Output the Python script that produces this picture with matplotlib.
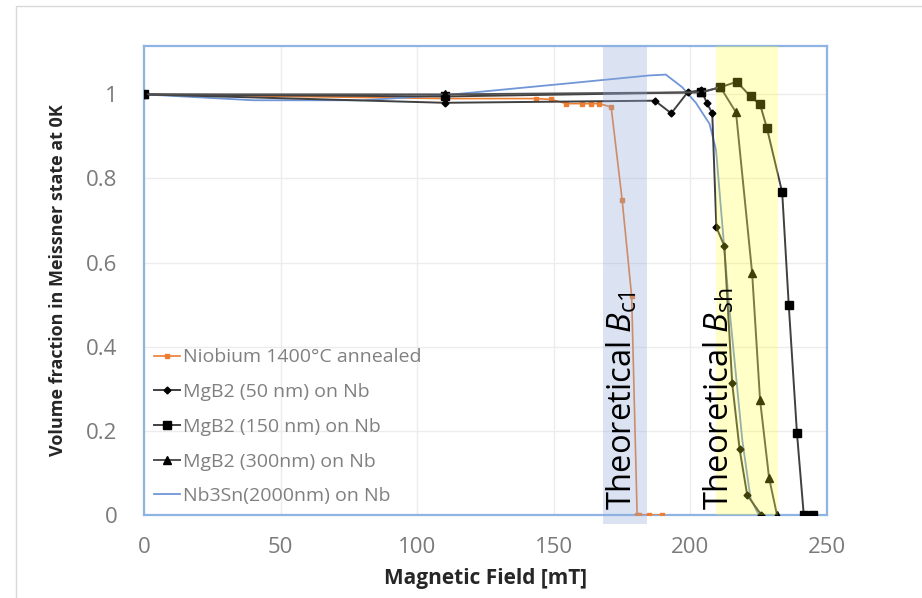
import matplotlib
matplotlib.use('Agg')
import matplotlib.pyplot as plt
from matplotlib.patches import Rectangle

plt.rcParams['font.family'] = 'Open Sans'
plt.rcParams['mathtext.fontset'] = 'custom'
plt.rcParams['mathtext.rm'] = 'Open Sans'
plt.rcParams['mathtext.it'] = 'Open Sans:italic'

# data
nb_x = [0, 110, 143.6, 149, 154.6, 160.5, 163.7, 166.7, 171, 175, 178.5, 180.5, 181.3, 185, 189.7]
nb_y = [1.0, 0.99, 0.99, 0.988, 0.978, 0.978, 0.978, 0.978, 0.97, 0.75, 0.52, 0.0, 0.0, 0.0, 0.0]

mg50_x = [0, 110, 187, 193, 199, 204, 206, 208, 209.5, 212.4, 215.3, 218, 220.8, 226]
mg50_y = [1.0, 0.98, 0.985, 0.955, 1.005, 1.01, 0.98, 0.955, 0.684, 0.64, 0.313, 0.157, 0.047, 0.0]

mg150_x = [0, 110, 204, 211, 217, 222, 225.5, 228, 233.6, 236, 239, 241.5, 245]
mg150_y = [1.0, 0.995, 1.005, 1.017, 1.03, 0.995, 0.976, 0.92, 0.767, 0.499, 0.195, 0.0, 0.0]

mg300_x = [0, 110, 204, 211, 216.7, 222.6, 225.5, 228.8, 231.7]
mg300_y = [1.0, 1.0, 1.005, 1.017, 0.957, 0.575, 0.273, 0.088, 0.0]

sn_x = [0, 40, 80, 110, 155, 185, 191, 197, 202, 207, 209.4, 214, 219, 222, 225]
sn_y = [1.0, 0.986, 0.986, 0.998, 1.026, 1.045, 1.047, 1.017, 0.98, 0.93, 0.867, 0.51, 0.178, 0.04, 0.0]

bc1_band = (168, 184)
bsh_band = (209.4, 232)

fig = plt.figure(figsize=(9.22, 5.98), dpi=100)
fig.patches.append(Rectangle((16 / 922, -0.01), 1.0, (598 - 6) / 598 + 0.01,
                             transform=fig.transFigure, fill=False,
                             edgecolor='#d9d9d9', linewidth=1))
ax = fig.add_axes([144 / 922, 83 / 598, 683 / 922, 469 / 598])

ax.plot(nb_x, nb_y, '-s', color='#ED7D31', markersize=2.5, linewidth=1.2,
        label='Niobium 1400°C annealed', zorder=3)
ax.plot(sn_x, sn_y, '-', color='#7096D8', linewidth=1.3,
        label='Nb3Sn(2000nm) on Nb', zorder=3)
ax.plot(mg50_x, mg50_y, '-D', color='#404040', mfc='black', mec='black',
        markersize=3.5, linewidth=1.4, label='MgB2 (50 nm) on Nb', zorder=4)
ax.plot(mg150_x, mg150_y, '-s', color='#404040', mfc='black', mec='black',
        markersize=6, linewidth=1.4, label='MgB2 (150 nm) on Nb', zorder=4)
ax.plot(mg300_x, mg300_y, '-^', color='#505050', mfc='black', mec='black',
        markersize=6, linewidth=1.4, label='MgB2 (300nm) on Nb', zorder=4)

# shaded bands drawn over the curves, like the original
ax.axvspan(*bc1_band, ymin=-0.02, ymax=1, color='#8FAADC', alpha=0.32,
           linewidth=0, zorder=5, clip_on=False)
ax.axvspan(*bsh_band, color='#FFFF20', alpha=0.25, linewidth=0, zorder=5)

ax.text(175, 0.012, 'Theoretical $B_{\\mathrm{c1}}$', rotation=90, ha='center',
        va='bottom', fontsize=23.5, color='black', zorder=6)
ax.text(210.5, 0.012, 'Theoretical $B_{\\mathrm{sh}}$', rotation=90, ha='center',
        va='bottom', fontsize=23.5, color='black', zorder=6)

ax.set_xlim(0, 250)
ax.set_ylim(0, 1.115)
ax.set_xticks([0, 50, 100, 150, 200, 250])
ax.set_yticks([0, 0.2, 0.4, 0.6, 0.8, 1.0])
ax.set_yticklabels(['0', '0.2', '0.4', '0.6', '0.8', '1'])
ax.tick_params(length=0, labelsize=16, labelcolor='#7a7a7a')
ax.tick_params(axis='y', pad=19)
ax.tick_params(axis='x', pad=16)
ax.grid(True, color='#ececec', linewidth=1)
ax.set_axisbelow(True)
for s in ax.spines.values():
    s.set_color('#8EB4E3')
    s.set_linewidth(1.6)

ax.set_xlabel('Magnetic Field [mT]', fontsize=15, fontweight='bold',
              color='#262626', labelpad=7)
ax.set_ylabel('Volume fraction in Meissner state at 0K', fontsize=13,
              fontweight='bold', color='#262626', labelpad=14)

handles, labels = ax.get_legend_handles_labels()
order = [0, 2, 3, 4, 1]
leg = ax.legend([handles[i] for i in order], [labels[i] for i in order],
                loc='lower left', bbox_to_anchor=(0.0, 0.0), frameon=False,
                fontsize=14, handlelength=1.35, handletextpad=0.15,
                labelspacing=0.86, labelcolor='#808080', borderaxespad=0.1)

fig.savefig('out.png', dpi=100)
